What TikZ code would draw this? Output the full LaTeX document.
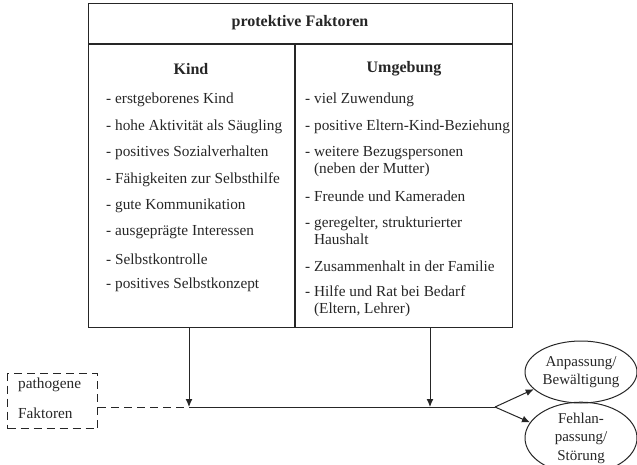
\documentclass[tikz,border=0pt]{standalone}
\usepackage{fontspec}
\setmainfont{Liberation Serif}
\usetikzlibrary{arrows.meta,shapes.geometric}
\definecolor{ink}{HTML}{262626}
\tikzset{
  frame/.style={draw=ink,line width=1.2pt},
  item/.style={anchor=west,inner sep=0pt,text=ink,font=\fontsize{15.3}{17.5}\selectfont,align=left},
  head/.style={inner sep=0pt,text=ink,font=\fontsize{16}{18}\selectfont\bfseries},
  conn/.style={draw=ink,line width=1pt},
  arr/.style={conn,-{Latex[length=8pt,width=7pt]}},
  dashpat/.style={dash pattern=on 8pt off 5pt},
  dashbox/.style={draw=ink,line width=1pt,dashpat},
  outcome/.style={ellipse,draw=ink,line width=1pt,minimum width=112pt,minimum height=62pt,inner sep=0pt,align=center,text=ink,font=\fontsize{15}{18.5}\selectfont}
}
\begin{document}
\begin{tikzpicture}[x=1pt,y=-1pt]
\useasboundingbox (0,0) rectangle (637,465);
% main frame
\node[frame,minimum width=424pt,minimum height=324pt,inner sep=0pt,anchor=north west] (box) at (88,3) {};
\draw[frame] (88,44) -- (512,44);
\draw[frame] (295,44) -- (295,327);
\node[head] (title) at (300,23) {protektive Faktoren};
\node[head] (kind) at (191,69) {Kind};
\node[head] (umg) at (404,69) {Umgebung};
% left list
\node[item] (k1) at (106,100) {- erstgeborenes Kind};
\node[item] (k2) at (106,127) {- hohe Aktivität als Säugling};
\node[item] (k3) at (106,153) {- positives Sozialverhalten};
\node[item] (k4) at (106,180) {- Fähigkeiten zur Selbsthilfe};
\node[item] (k5) at (106,206) {- gute Kommunikation};
\node[item] (k6) at (106,232) {- ausgeprägte Interessen};
\node[item] (k7) at (106,259) {- Selbstkontrolle};
\node[item] (k8) at (106,285) {- positives Selbstkonzept};
% right list
\node[item] (u1) at (305,100) {- viel Zuwendung};
\node[item] (u2) at (305,127) {- positive Eltern-Kind-Beziehung};
\node[item] (u3) at (305,161.5) {- weitere Bezugspersonen\\\phantom{- }(neben der Mutter)};
\node[item] (u4) at (305,196) {- Freunde und Kameraden};
\node[item] (u5) at (305,231) {- geregelter, strukturierter\\\phantom{- }Haushalt};
\node[item] (u6) at (305,266) {- Zusammenhalt in der Familie};
\node[item] (u7) at (305,301) {- Hilfe und Rat bei Bedarf\\\phantom{- }(Eltern, Lehrer)};
% pathogene Faktoren
\node[dashbox,minimum width=90pt,minimum height=55pt,inner sep=0pt,anchor=north west] (path) at (7,373) {};
\node[item] (p1) at (18,385) {pathogene};
\node[item] (p2) at (18,413) {Faktoren};
% outcomes
\node[outcome] (anp) at (581,372) {Anpassung/\\Bewältigung};
\node[outcome] (feh) at (581,438) {Fehlan-\\passung/\\Störung};
% connectors
\coordinate (j1) at (189,407);
\coordinate (j2) at (430,407);
\coordinate (br) at (495,407);
\draw[arr] (box.south -| j1) -- (j1);
\draw[arr] (box.south -| j2) -- (j2);
\draw[conn] (j1) -- (br);
\draw[conn,dashpat] (path.east |- j1) -- (j1);
\draw[arr] (br) -- (anp.200);
\draw[arr] (br) -- (feh.163);
\end{tikzpicture}
\end{document}
